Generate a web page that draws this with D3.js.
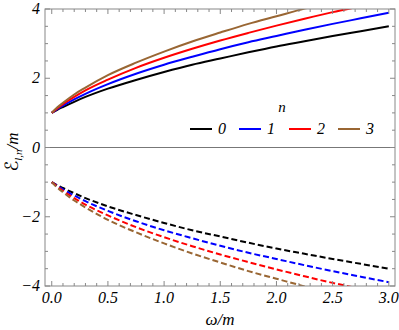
<!DOCTYPE html>
<html><head><meta charset="utf-8">
<script src="https://cdn.jsdelivr.net/npm/d3@7"></script>
<style>body{margin:0;background:#fff}</style>
</head><body>
<svg id="c" width="399" height="330"></svg>
<script>
const omega = [0,0.05,0.1,0.2,0.3,0.5,0.75,1,1.25,1.5,1.75,2,2.25,2.5,2.75,3];
const upper0 = [1,1.09,1.17,1.32,1.46,1.70,1.95,2.18,2.39,2.57,2.75,2.92,3.07,3.22,3.36,3.50];
const upper1 = [1,1.11,1.21,1.39,1.55,1.83,2.13,2.39,2.62,2.84,3.04,3.22,3.40,3.57,3.73,3.89];
const upper2 = [1,1.13,1.25,1.46,1.65,1.96,2.30,2.59,2.85,3.09,3.31,3.52,3.72,3.91,4.08,4.25];
const upper3 = [1,1.16,1.29,1.53,1.73,2.09,2.45,2.77,3.06,3.32,3.57,3.79,4.01,4.21,4.40,4.58];
const lower0 = [-1,-1.09,-1.17,-1.32,-1.46,-1.70,-1.95,-2.18,-2.39,-2.57,-2.75,-2.92,-3.07,-3.22,-3.36,-3.50];
const lower1 = [-1,-1.11,-1.21,-1.39,-1.55,-1.83,-2.13,-2.39,-2.62,-2.84,-3.04,-3.22,-3.40,-3.57,-3.73,-3.89];
const lower2 = [-1,-1.13,-1.25,-1.46,-1.65,-1.96,-2.30,-2.59,-2.85,-3.09,-3.31,-3.52,-3.72,-3.91,-4.08,-4.25];
const lower3 = [-1,-1.16,-1.29,-1.53,-1.73,-2.09,-2.45,-2.77,-3.06,-3.32,-3.57,-3.79,-4.01,-4.21,-4.40,-4.58];
const nLabels = ["0","1","2","3"];
const colors = ["#000000","#0000ff","#ff0000","#996633"];
const xTicks = [0,0.5,1,1.5,2,2.5,3];
const xTickLabels = ["0.0","0.5","1.0","1.5","2.0","2.5","3.0"];
const yTicks = [-4,-2,0,2,4];
const yTickLabels = ["\u22124","\u22122","0","2","4"];

const svg = d3.select("#c");
const L=45, R=395, T=9, B=286;
const x = d3.scaleLinear().domain([-0.06,3.055]).range([L,R]);
const y = d3.scaleLinear().domain([-4,4]).range([B,T]);
const frameCol = "#888";
const serif = '"Liberation Serif"';
function txt(sel, size){ return sel.style("font-family",serif).style("font-style","italic").style("font-size",size+"px"); }

svg.append("clipPath").attr("id","clip").append("rect")
  .attr("x",L).attr("y",T).attr("width",R-L).attr("height",B-T);

svg.append("line").attr("x1",L).attr("x2",R).attr("y1",y(0)).attr("y2",y(0))
  .attr("stroke","#777").attr("stroke-width",1);

const line = d3.line().x((d,i)=>x(omega[i])).y(d=>y(d)).curve(d3.curveMonotoneX);
const g = svg.append("g").attr("clip-path","url(#clip)");
[upper0,upper1,upper2,upper3].forEach((s,k)=>{
  g.append("path").attr("d",line(s)).attr("fill","none").attr("stroke",colors[k]).attr("stroke-width",2);
});
[lower0,lower1,lower2,lower3].forEach((s,k)=>{
  g.append("path").attr("d",line(s)).attr("fill","none").attr("stroke",colors[k]).attr("stroke-width",2)
   .attr("stroke-dasharray","6,3");
});

svg.append("rect").attr("x",L).attr("y",T).attr("width",R-L).attr("height",B-T)
  .attr("fill","none").attr("stroke",frameCol).attr("stroke-width",1);

const xMinor = d3.range(0,3.01,0.1);
xMinor.forEach(v=>{
  const major = xTicks.some(t=>Math.abs(t-v)<1e-6);
  const len = major?5:3;
  svg.append("line").attr("x1",x(v)).attr("x2",x(v)).attr("y1",B).attr("y2",B-len).attr("stroke",frameCol);
  svg.append("line").attr("x1",x(v)).attr("x2",x(v)).attr("y1",T).attr("y2",T+len).attr("stroke",frameCol);
});
const yMinor = d3.range(-4,4.01,0.5);
yMinor.forEach(v=>{
  const major = yTicks.some(t=>Math.abs(t-v)<1e-6);
  const len = major?5:3;
  svg.append("line").attr("y1",y(v)).attr("y2",y(v)).attr("x1",L).attr("x2",L+len).attr("stroke",frameCol);
  svg.append("line").attr("y1",y(v)).attr("y2",y(v)).attr("x1",R).attr("x2",R-len).attr("stroke",frameCol);
});

xTicks.forEach((t,i)=>{
  txt(svg.append("text").attr("x",x(t)).attr("y",B+17).attr("text-anchor","middle"),16).text(xTickLabels[i]);
});
yTicks.forEach((t,i)=>{
  txt(svg.append("text").attr("x",L-5).attr("y",y(t)+5).attr("text-anchor","end"),16).text(yTickLabels[i]);
});

txt(svg.append("text").attr("x",220).attr("y",325).attr("text-anchor","middle"),17).text("\u03c9/m");
const yl = txt(svg.append("text").attr("transform","translate(18,152) rotate(-90)").attr("text-anchor","middle"),17);
yl.append("tspan").style("font-family","'DejaVu Sans'").style("font-size","18px").text("\u2130");
yl.append("tspan").style("font-size","11px").attr("dy",4).text("l,n");
yl.append("tspan").attr("dy",-4).text("/m");

txt(svg.append("text").attr("x",282).attr("y",112).attr("text-anchor","middle"),15).text("n");
const lx = [190,239,289,338];
nLabels.forEach((lab,k)=>{
  svg.append("line").attr("x1",lx[k]).attr("x2",lx[k]+22).attr("y1",129).attr("y2",129)
    .attr("stroke",colors[k]).attr("stroke-width",2);
  txt(svg.append("text").attr("x",lx[k]+32).attr("y",134).attr("text-anchor","middle"),16).text(lab);
});
</script>
</body></html>
